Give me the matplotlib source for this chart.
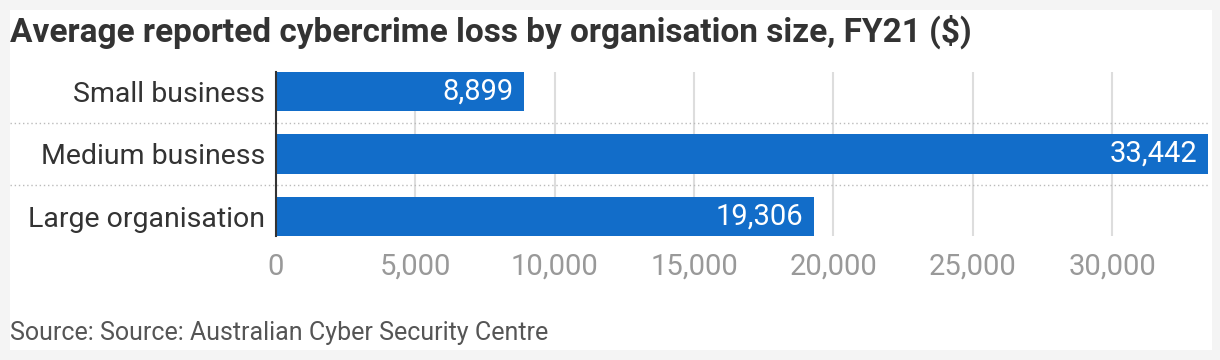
import matplotlib.pyplot as plt
from matplotlib.patches import Rectangle
from matplotlib.ticker import FuncFormatter

categories = ["Small business", "Medium business", "Large organisation"]
values = [8899, 33442, 19306]
ticks = [0, 5000, 10000, 15000, 20000, 25000, 30000]

plt.rcParams['font.family'] = ['Roboto', 'DejaVu Sans']

fig = plt.figure(figsize=(12.2, 3.6), dpi=100, facecolor='#f4f4f4')
fig.patches.append(Rectangle((10 / 1220, 10 / 360), 1202 / 1220, 340 / 360,
                             transform=fig.transFigure, facecolor='white',
                             edgecolor='none', zorder=-1))

ax = fig.add_axes([276 / 1220, 1 - 236 / 360, 932 / 1220, 164 / 360])
ax.set_facecolor('none')
ax.set_zorder(2)

y = list(range(len(categories)))
bars = ax.barh(y, values, height=0.63, color='#126dc9', zorder=3)

for yi, v in zip(y, values):
    ax.text(v - 380, yi, f"{v:,}", ha='right', va='center', color='white',
            fontsize=21, zorder=4)

ax.set_xlim(0, max(values))
ax.set_ylim(2.315, -0.315)
ax.set_xticks(ticks)
ax.xaxis.set_major_formatter(FuncFormatter(lambda x, p: f"{int(x):,}"))
ax.set_yticks(y)
ax.set_yticklabels(categories)
ax.tick_params(axis='x', length=0, labelsize=21, labelcolor='#999999', pad=12)
ax.tick_params(axis='y', length=0, labelsize=20.5, labelcolor='#333333', pad=8)

for t in ticks[1:]:
    ax.axvline(t, color='#dddddd', lw=1.5, zorder=1)

for sep in [0.5, 1.5]:
    ax.axhline(sep, xmin=-0.285, xmax=1.002, color='#bbbbbb', lw=1,
               linestyle=(0, (1, 2)), clip_on=False, zorder=2)

for s in ['top', 'right', 'bottom']:
    ax.spines[s].set_visible(False)
ax.spines['left'].set_color('#333333')
ax.spines['left'].set_linewidth(1.5)
ax.spines['left'].set_zorder(5)

fig.text(10 / 1220, 1 - 32 / 360, "Average reported cybercrime loss by organisation size, FY21 ($)",
         fontsize=24, fontweight='bold', color='#333333', va='center')
fig.text(10 / 1220, 1 - 333 / 360, "Source: Source: Australian Cyber Security Centre",
         fontsize=18, color='#555555', va='center')

fig.savefig('out.png', dpi=100, facecolor=fig.get_facecolor())
